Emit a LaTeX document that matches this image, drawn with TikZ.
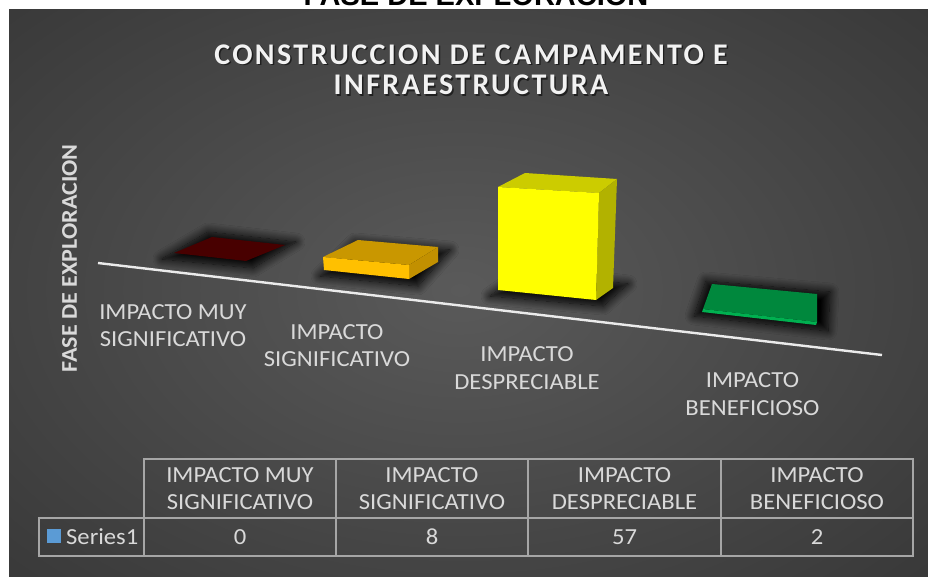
\documentclass[tikz,border=0pt]{standalone}
\usepackage{fontspec}
\setmainfont{Carlito}[FakeStretch=1.07]
\newfontfamily\arialfont{Liberation Sans}
\newfontfamily\titlefont[LetterSpace=8]{Carlito}
\usetikzlibrary{shadows.blur}
\definecolor{bgin}{HTML}{5A5A5A}
\definecolor{bgout}{HTML}{242424}
\definecolor{lbltext}{HTML}{D9D9D9}
\definecolor{tblline}{HTML}{A6A6A6}
\definecolor{redtop}{HTML}{480000}
\definecolor{orfront}{HTML}{FFC000}
\definecolor{ortop}{HTML}{C99700}
\definecolor{orside}{HTML}{C29000}
\definecolor{yefront}{HTML}{FFFF00}
\definecolor{yetop}{HTML}{CCCC00}
\definecolor{yeside}{HTML}{B2B200}
\definecolor{grtop}{HTML}{00883D}
\definecolor{grfront}{HTML}{00B050}
\definecolor{legblue}{HTML}{5B9BD5}
\pgfdeclareradialshading{bgshade}{\pgfpoint{0bp}{0bp}}{color(0bp)=(bgin); color(50bp)=(bgout)}
\begin{document}
\begin{tikzpicture}[x=1pt,y=-1pt,
  lbl/.style={text=lbltext, font=\fontsize{23}{27.5}\selectfont, align=center, inner sep=0pt},
  tline/.style={draw=tblline, line width=1.4pt},
  shad/.style={blur shadow={shadow xshift=0pt, shadow yshift=0pt, shadow blur radius=9pt, shadow blur steps=14, shadow opacity=100}}]
\useasboundingbox (0,0) rectangle (928,577);
\clip (0,0) rectangle (928,577);
\node[font=\arialfont\bfseries\fontsize{29}{34}\selectfont, anchor=base, inner sep=0pt] (toptitle) at (476,5.5) {FASE DE EXPLORACION};
\begin{scope}
  \clip (9,10) rectangle (928,577);
  \shade[shading=bgshade] (-60,-50) rectangle (980,630);
\end{scope}
% chart title
\node[font=\titlefont\bfseries\fontsize{30}{30.5}\selectfont, align=center, inner sep=0pt, text=black, opacity=0.55] at (472.5,71.5) {CONSTRUCCION DE CAMPAMENTO E\\INFRAESTRUCTURA};
\node[font=\titlefont\bfseries\fontsize{30}{30.5}\selectfont, align=center, inner sep=0pt, text=white!95!black] (ctitle) at (471,70) {CONSTRUCCION DE CAMPAMENTO E\\INFRAESTRUCTURA};
% y label
\node[font=\bfseries\fontsize{22.5}{26}\selectfont, text=lbltext, rotate=90, inner sep=0pt] (ylabel) at (69.5,258.5) {FASE DE EXPLORACION};
% shadows
\path[shad] (162,259) -- (208,232) -- (296,242) -- (253,268) -- cycle;
\path[shad] (320,276) -- (355,242) -- (450,250) -- (418,286) -- cycle;
\path[shad] (490,296) -- (524,272) -- (628,284) -- (603,306) -- cycle;
\path[shad] (694,316) -- (706,281) -- (830,292) -- (828,331) -- cycle;
% bar 1 (0)
\fill[redtop] (174,253) -- (212,237) -- (285,245) -- (246,261) -- cycle;
% bar 2 (8)
\fill[ortop] (323,257) -- (358,240) -- (438,247) -- (409,265) -- cycle;
\fill[orside] (409,265) -- (438,247) -- (438,262) -- (409,279) -- cycle;
\fill[orfront] (323,257) -- (409,265) -- (409,279) -- (324,270) -- cycle;
% bar 3 (57)
\fill[yetop] (498,187) -- (525,173) -- (617,179) -- (599,193) -- cycle;
\fill[yeside] (599,193) -- (617,179) -- (613,288) -- (596,300) -- cycle;
\fill[yefront] (498,187) -- (599,193) -- (596,300) -- (498,290) -- cycle;
% bar 4 (2)
\fill[grtop] (703,309) -- (712,284) -- (817,294) -- (817,322) -- cycle;
\fill[grfront] (703,309) -- (817,322) -- (816,325) -- (702,312) -- cycle;
% axis
\coordinate (axA) at (98,263);
\coordinate (axB) at (882,355);
\draw[white!92!black, line width=2.4pt] (axA) -- (axB);
% category labels
\node[lbl] (c1) at (173,325.7) {IMPACTO MUY\\SIGNIFICATIVO};
\node[lbl] (c2) at (337,345.5) {IMPACTO\\SIGNIFICATIVO};
\node[lbl] (c3) at (527,368) {IMPACTO\\DESPRECIABLE};
\node[lbl] (c4) at (752.5,394) {IMPACTO\\BENEFICIOSO};
% table
\draw[tline] (144,459) rectangle (913,556);
\draw[tline] (39,518) rectangle (144,556);
\draw[tline] (144,518) -- (913,518);
\draw[tline] (336,459) -- (336,556);
\draw[tline] (528,459) -- (528,556);
\draw[tline] (721,459) -- (721,556);
\node[lbl] (h1) at (240,488.7) {IMPACTO MUY\\SIGNIFICATIVO};
\node[lbl] (h2) at (432,488.7) {IMPACTO\\SIGNIFICATIVO};
\node[lbl] (h3) at (624.5,488.7) {IMPACTO\\DESPRECIABLE};
\node[lbl] (h4) at (817,488.7) {IMPACTO\\BENEFICIOSO};
\fill[legblue] (47,529) rectangle (61,543);
\node[lbl, anchor=west] (s1) at (66,537) {Series1};
\node[lbl] (v1) at (240,537) {0};
\node[lbl] (v2) at (432,537) {8};
\node[lbl] (v3) at (624.5,537) {57};
\node[lbl] (v4) at (817,537) {2};
\end{tikzpicture}
\end{document}
